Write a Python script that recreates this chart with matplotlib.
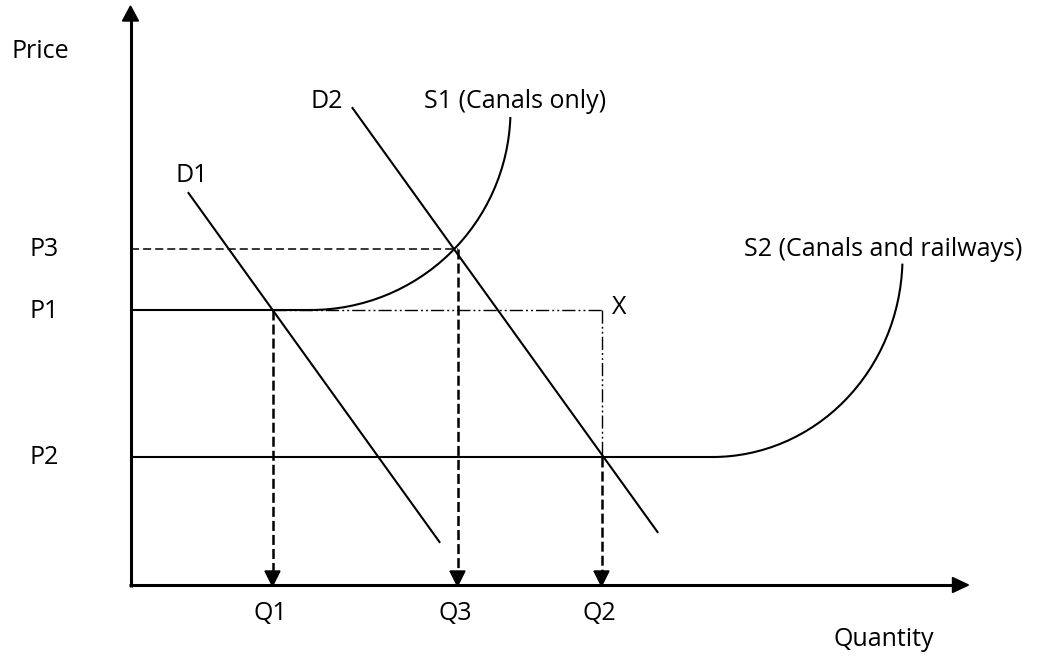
import matplotlib
matplotlib.use("Agg")
import matplotlib.pyplot as plt
from matplotlib.patches import Arc, Polygon

plt.rcParams['font.family'] = ['Open Sans', 'DejaVu Sans']
plt.rcParams['lines.scale_dashes'] = False

# ---- data (diagram units: quantity right, price up, origin at axes corner) ----
price_labels = ['P3', 'P1', 'P2']
price_values = [336, 275, 128]
qty_labels = ['Q1', 'Q3', 'Q2']
qty_values = [142, 327, 471]
eq_prices = [275, 336, 128]          # price at which each Q dashed line starts

d1_q = [58, 309]
d1_p = [392, 43]
d2_q = [222, 527]
d2_p = [477, 53]

s1_kink_q = 180      # S1 flat at P1 until here, then curves up
s1_radius = [200, 200]
s1_end_angle = -2
s2_kink_q = 582      # S2 flat at P2 until here, then curves up
s2_radius = [190, 200]
s2_end_angle = -2

x_axis_end = 838
y_axis_end = 579

fig = plt.figure(figsize=(10.43, 6.60), dpi=100)
ax = fig.add_axes([0, 0, 1, 1])
ax.set_xlim(-130.5, 1043 - 130.5)
ax.set_ylim(585 - 660, 585)
ax.axis('off')

FS = 18
k = 'black'

# axes with arrowheads
ax.plot([0, 0], [-2, y_axis_end - 14], color=k, lw=2.2, solid_capstyle='butt')
ax.plot([-2, x_axis_end - 14], [0, 0], color=k, lw=2.2, solid_capstyle='butt')
ax.add_patch(Polygon([[0, y_axis_end], [-8, y_axis_end - 15], [8, y_axis_end - 15]],
                     closed=True, color=k))
ax.add_patch(Polygon([[x_axis_end, 0], [x_axis_end - 16, 7.5], [x_axis_end - 16, -7.5]],
                     closed=True, color=k))

# demand curves
ax.plot(d1_q, d1_p, color=k, lw=1.5)
ax.plot(d2_q, d2_p, color=k, lw=1.5)

# supply S1
P3, P1, P2 = price_values
ax.plot([0, s1_kink_q], [P1, P1], color=k, lw=1.5)
ax.add_patch(Arc((s1_kink_q, P1 + s1_radius[1]), 2 * s1_radius[0], 2 * s1_radius[1],
                 theta1=-90, theta2=s1_end_angle, color=k, lw=1.5))
# supply S2
ax.plot([0, s2_kink_q], [P2, P2], color=k, lw=1.5)
ax.add_patch(Arc((s2_kink_q, P2 + s2_radius[1]), 2 * s2_radius[0], 2 * s2_radius[1],
                 theta1=-90, theta2=s2_end_angle, color=k, lw=1.5))

# P3 dashed guide
Q1, Q3, Q2 = qty_values
ax.plot([0, Q3], [P3, P3], color=k, lw=1.1, linestyle=(0, (5.8, 2.9)))

# dash-dot-dot lines to X
ddd = (0, (9.5, 2.2, 1.4, 2.2, 1.4, 2.2))
ax.plot([Q1, Q2], [P1, P1], color=k, lw=1.0, linestyle=ddd)
ax.plot([Q2, Q2], [P1, P2], color=k, lw=1.0, linestyle=ddd)

# dashed arrows down to quantity axis
for q, p in zip(qty_values, eq_prices):
    ax.plot([q, q], [p, 13], color=k, lw=1.8, linestyle=(0, (7.2, 2.9)))
    ax.add_patch(Polygon([[q, -1], [q - 7.5, 14], [q + 7.5, 14]], closed=True, color=k))

# labels
for lab, p in zip(price_labels, price_values):
    ax.text(-101, p - 1, lab, fontsize=FS, ha='left', va='center')
for lab, q in zip(qty_labels, qty_values):
    ax.text(q - 2, -29, lab, fontsize=FS, ha='center', va='center')
ax.text(-119, 533, 'Price', fontsize=FS, ha='left', va='center')
ax.text(703, -54, 'Quantity', fontsize=FS, ha='left', va='center')
ax.text(d1_q[0] + 3, 409, 'D1', fontsize=FS, ha='center', va='center')
ax.text(d2_q[0] - 26, 484, 'D2', fontsize=FS, ha='center', va='center')
ax.text(294, 484, 'S1 (Canals only)', fontsize=FS, ha='left', va='center')
ax.text(614, 336, 'S2 (Canals and railways)', fontsize=FS, ha='left', va='center')
ax.text(Q2 + 10, P1 + 3, 'X', fontsize=FS, ha='left', va='center')

fig.savefig('out.png', dpi=100)
